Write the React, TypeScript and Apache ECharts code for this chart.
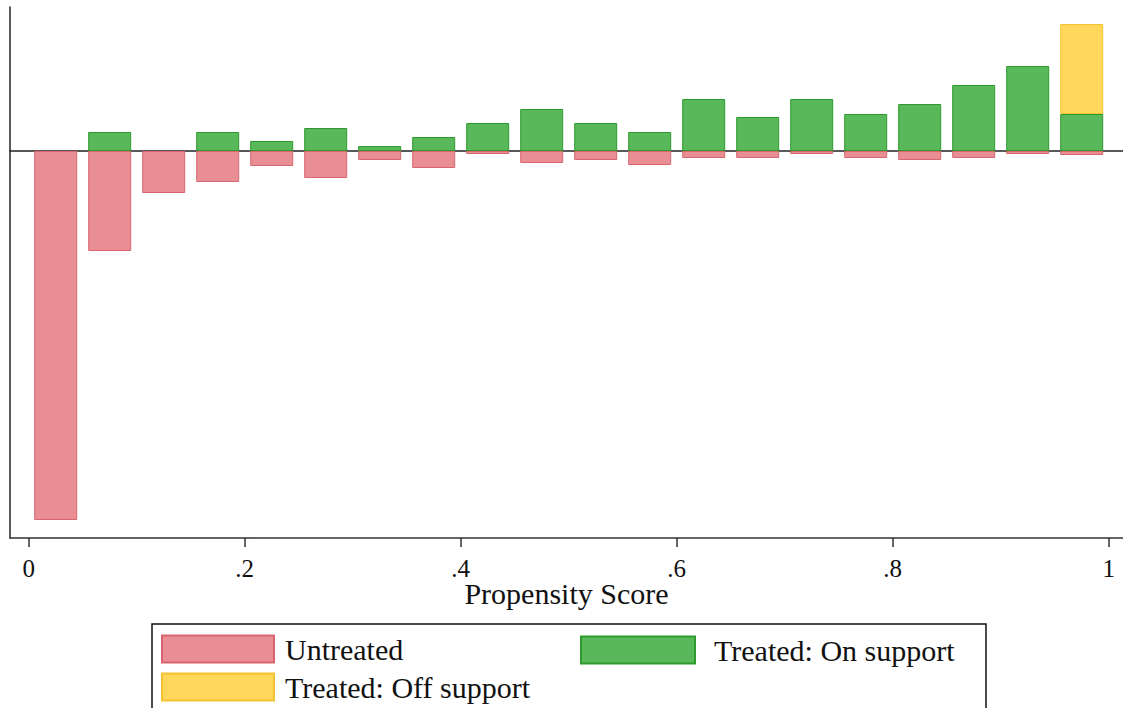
import React, { useEffect, useRef } from "react";
import * as echarts from "echarts";

const binLabels = ["0-.05", ".05-.1", ".1-.15", ".15-.2", ".2-.25", ".25-.3", ".3-.35", ".35-.4", ".4-.45", ".45-.5", ".5-.55", ".55-.6", ".6-.65", ".65-.7", ".7-.75", ".75-.8", ".8-.85", ".85-.9", ".9-.95", ".95-1"];
const untreated = [-36.9, -10.0, -4.2, -3.1, -1.5, -2.7, -0.9, -1.7, -0.3, -1.2, -0.9, -1.4, -0.7, -0.7, -0.3, -0.7, -0.9, -0.7, -0.3, -0.4];
const treatedOn = [0, 1.9, 0, 1.9, 1.0, 2.3, 0.5, 1.4, 2.8, 4.2, 2.8, 1.9, 5.2, 3.4, 5.2, 3.7, 4.7, 6.6, 8.5, 3.7];
const treatedOff = [0, 0, 0, 0, 0, 0, 0, 0, 0, 0, 0, 0, 0, 0, 0, 0, 0, 0, 0, 9.0];
const xTicks = [0, 0.2, 0.4, 0.6, 0.8, 1];
const xTickLabels = ["0", ".2", ".4", ".6", ".8", "1"];
const seriesNames = ["Untreated", "Treated: On support", "Treated: Off support"];

const FONT = "'Liberation Serif', 'Times New Roman', serif";

function toData(vals: number[]) {
  return vals.map((v) => (v === 0 ? "-" : v));
}

export default function App() {
  const ref = useRef<HTMLDivElement>(null);
  useEffect(() => {
    document.body.style.margin = "0";
    const chart = echarts.init(ref.current!, null, { renderer: "svg" });
    const legendText = { fontFamily: FONT, fontSize: 30, color: "#111", padding: [0, 0, 0, 6] };
    const legendBase = {
      padding: 0,
      itemHeight: 27,
      icon: "rect",
      textStyle: legendText,
      selectedMode: false,
    };
    const option: any = {
      animation: false,
      backgroundColor: "#ffffff",
      grid: [
        { left: 10, right: 0, top: 7, bottom: 170, containLabel: false },
        { left: 28.7, right: 14.3, top: 7, bottom: 170, containLabel: false },
      ],
      xAxis: [
        {
          type: "value",
          gridIndex: 0,
          min: -0.0173,
          max: 1.0132,
          name: "Propensity Score",
          nameLocation: "middle",
          nameGap: 40,
          nameMoveOverlap: false,
          nameTextStyle: { fontFamily: FONT, fontSize: 30, color: "#111" },
          axisLine: { show: true, onZero: false, lineStyle: { color: "#333", width: 1.5 } },
          axisTick: { show: true, length: 9, lineStyle: { color: "#333", width: 1.5 }, customValues: xTicks },
          axisLabel: {
            show: true,
            margin: 18,
            fontFamily: FONT,
            fontSize: 25,
            color: "#111",
            customValues: xTicks,
            formatter: (v: number) => {
              const idx = xTicks.findIndex((t) => Math.abs(t - v) < 1e-9);
              return idx >= 0 ? xTickLabels[idx] : "";
            },
          },
          splitLine: { show: false },
        },
        {
          type: "value",
          gridIndex: 0,
          min: -0.0173,
          max: 1.0132,
          position: "top",
          axisLine: { show: true, onZero: true, lineStyle: { color: "#222", width: 1.5 } },
          axisTick: { show: false },
          axisLabel: { show: false },
          splitLine: { show: false },
        },
        {
          type: "category",
          gridIndex: 1,
          data: binLabels,
          boundaryGap: true,
          show: false,
        },
      ],
      yAxis: [
        {
          type: "value",
          gridIndex: 0,
          min: -38.7,
          max: 14.4,
          axisLine: { show: true, onZero: false, lineStyle: { color: "#222", width: 1.5 } },
          axisTick: { show: false },
          axisLabel: { show: false },
          splitLine: { show: false },
        },
        {
          type: "value",
          gridIndex: 1,
          min: -38.7,
          max: 14.4,
          show: false,
          splitLine: { show: false },
        },
      ],
      legend: [
        { ...legendBase, data: [seriesNames[0]], left: 161, top: 634, itemWidth: 112 },
        {
          ...legendBase,
          data: [seriesNames[1]],
          left: 580,
          top: 635,
          itemWidth: 114,
          textStyle: { ...legendText, padding: [0, 0, 0, 14] },
        },
        { ...legendBase, data: [seriesNames[2]], left: 161, top: 672, itemWidth: 112 },
      ],
      graphic: [
        {
          type: "rect",
          shape: { x: 152, y: 624, width: 834, height: 110 },
          style: { fill: "none", stroke: "#111", lineWidth: 1.5 },
          silent: true,
        },
      ],
      series: [
        {
          name: seriesNames[0],
          type: "bar",
          xAxisIndex: 2,
          yAxisIndex: 1,
          stack: "neg",
          barWidth: 43,
          data: toData(untreated),
          itemStyle: { color: "#E88E94", borderColor: "#D9666E", borderWidth: 1 },
        },
        {
          name: seriesNames[1],
          type: "bar",
          xAxisIndex: 2,
          yAxisIndex: 1,
          stack: "pos",
          barGap: "-100%",
          barWidth: 43,
          data: toData(treatedOn),
          itemStyle: { color: "#59B859", borderColor: "#2E9A2E", borderWidth: 1 },
        },
        {
          name: seriesNames[2],
          type: "bar",
          xAxisIndex: 2,
          yAxisIndex: 1,
          stack: "pos",
          barGap: "-100%",
          barWidth: 43,
          data: toData(treatedOff),
          itemStyle: { color: "#FFD75A", borderColor: "#F5C232", borderWidth: 1 },
        },
      ],
    };
    chart.setOption(option);
    return () => chart.dispose();
  }, []);
  return <div ref={ref} style={{ width: 1123, height: 708 }} />;
}
